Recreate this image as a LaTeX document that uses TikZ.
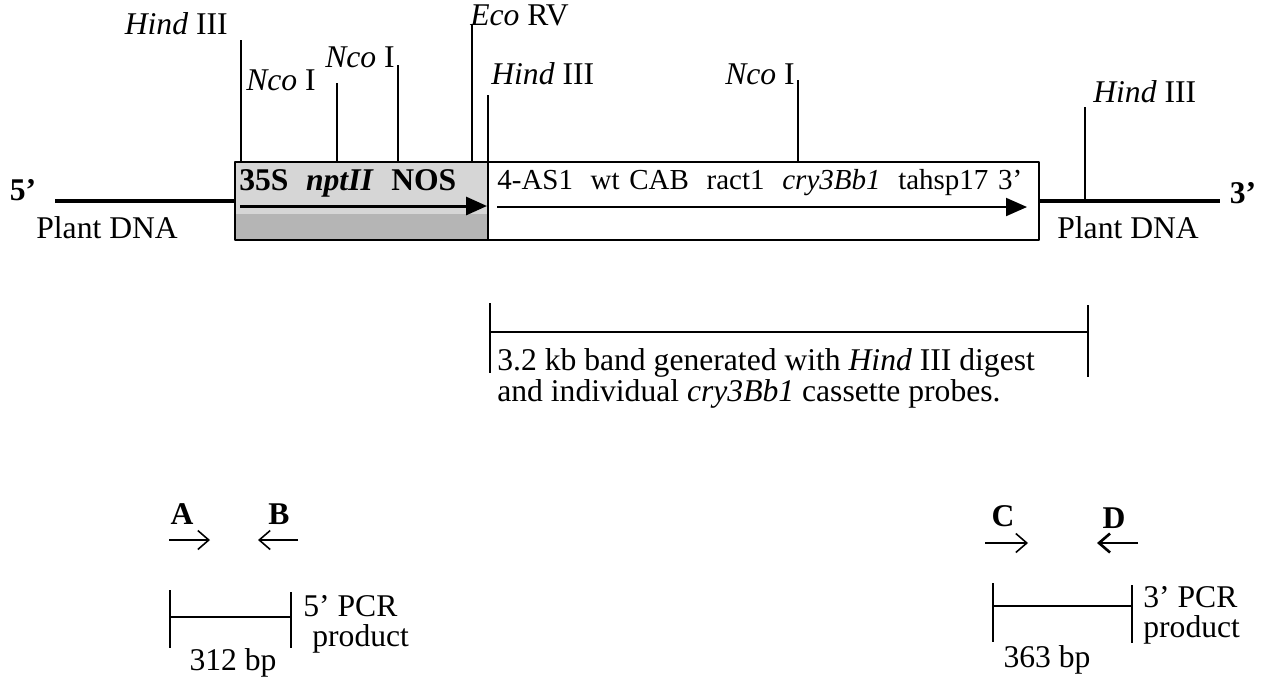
\documentclass[tikz,border=0pt]{standalone}
\usepackage{fontspec}
\setmainfont{Liberation Serif}
\usetikzlibrary{arrows.meta}

\begin{document}
\begin{tikzpicture}[x=0.02cm, y=-0.02cm, line join=round,
		txt/.style={inner sep=0pt, font=\fontsize{18}{18.6}\selectfont},
		bold/.style={txt, font=\fontsize{18}{18.6}\selectfont\bfseries},
		dna/.style={line width=2.6pt},
		sitecut/.style={line width=1.1pt},
		frame/.style={line width=1.6pt},
		bracket/.style={line width=1.5pt},
		primer/.style={line width=0.9pt, -{Straight Barb[length=0.22cm, width=0.38cm]}}]

		\useasboundingbox (0,0) rectangle (1263,680);

		% ================= insert and flanking plant DNA =================
		\fill[gray!32] (235,162) rectangle (488,240);
		\fill[gray!58] (235,214) rectangle (488,240);
		\draw[dna] (55,201) -- (235,201);
		\draw[dna] (1039,201) -- (1220,201);
		\draw[line width=1.7pt, -{Triangle[length=0.42cm, width=0.36cm]}] (240,206) -- (487,206);
		\draw[line width=1.1pt, -{Triangle[length=0.42cm, width=0.36cm]}] (497,207) -- (1027,207);
		\draw[frame] (235,162) rectangle (1039,240);
		\draw[frame] (488,162) -- (488,240);
		\node[bold, anchor=west, text width=4.34cm] (npt) at (239,183) {35S\hfill\textit{nptII}\hfill NOS};
		\node[txt, font=\fontsize{16.5}{17}\selectfont, anchor=west, text width=10.5cm] (cab) at (497,183)
		{4-AS1\hfill wt CAB\hfill ract1\hfill \textit{cry3Bb1}\hfill tahsp17 3'};

		\node[bold] (five) at (23,190) {5'};
		\node[bold] (three) at (1243,193) {3'};
		\node[txt, anchor=west] (plantL) at (36,228) {Plant DNA};
		\node[txt, anchor=west] (plantR) at (1057,228) {Plant DNA};

		% ================= restriction sites =================
		\node[txt, anchor=east] (hindL) at (228,24) {\textit{Hind} III};
		\draw[sitecut] (241,40) -- (241,162);
		\node[txt, anchor=west] (ncoA) at (246,80) {\textit{Nco} I};
		\draw[sitecut] (337,83) -- (337,162);
		\node[txt, anchor=east] (ncoB) at (395,57) {\textit{Nco} I};
		\draw[sitecut] (398,65) -- (398,162);
		\node[txt, anchor=west] (ecoRV) at (470,15) {\textit{Eco} RV};
		\draw[sitecut] (472,25) -- (472,162);
		\node[txt, anchor=west] (hindM) at (491,74) {\textit{Hind} III};
		\draw[sitecut] (488,95) -- (488,162);
		\node[txt, anchor=east] (ncoC) at (795,74) {\textit{Nco} I};
		\draw[sitecut] (798,80) -- (798,162);
		\node[txt, anchor=west] (hindR) at (1093,92) {\textit{Hind} III};
		\draw[sitecut] (1085,107) -- (1085,199);

		% ================= 3.2 kb band =================
		\draw[bracket] (490,303) -- (490,373);
		\draw[bracket] (1088,305) -- (1088,377);
		\draw[bracket] (490,332) -- (1088,332);
		\node[txt, anchor=base west] (bandA) at (497,370) {3.2 kb band generated with \textit{Hind} III digest};
		\node[txt, anchor=base west] (bandB) at (497,401) {and individual \textit{cry3Bb1} cassette probes.};

		% ================= 5' PCR product =================
		\node[bold] (pA) at (182,514) {A};
		\node[bold] (pB) at (279,514) {B};
		\draw[primer] (169,540) -- (210,540);
		\draw[primer] (298,540) -- (258,540);
		\draw[bracket] (170,590) -- (170,648);
		\draw[bracket] (291,592) -- (291,648);
		\draw[bracket] (170,617) -- (291,617);
		\node[txt, anchor=west] (pcrA) at (303,606) {5' PCR};
		\node[txt, anchor=west] (pcrB) at (312,639) {product};
		\node[txt] (bpA) at (233,663) {312 bp};

		% ================= 3' PCR product =================
		\node[bold] (pC) at (1003,516) {C};
		\node[bold] (pD) at (1114,518) {D};
		\draw[primer] (985,543) -- (1028,543);
		\draw[primer, line width=1.5pt] (1138,543) -- (1097,543);
		\draw[bracket] (993,583) -- (993,642);
		\draw[bracket] (1132,585) -- (1132,643);
		\draw[bracket] (993,606) -- (1132,606);
		\node[txt, anchor=west] (pcrC) at (1143,597) {3' PCR};
		\node[txt, anchor=west] (pcrD) at (1143,630) {product};
		\node[txt] (bpC) at (1047,660) {363 bp};

	\end{tikzpicture}
\end{document}
